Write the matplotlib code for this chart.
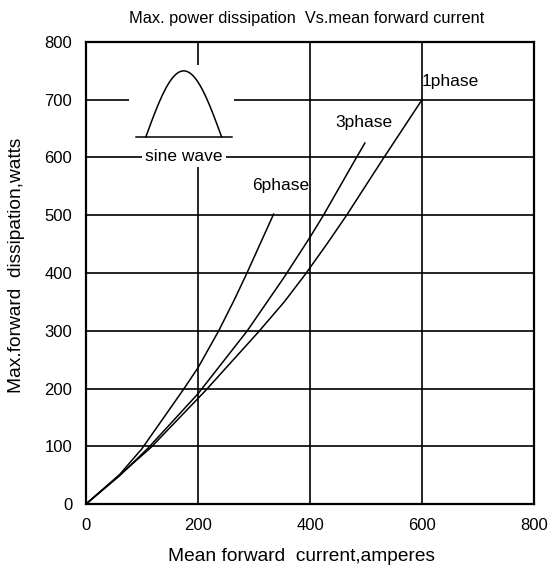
import numpy as np
import matplotlib.pyplot as plt
from matplotlib.patches import Rectangle

# ==========================================================
# Data
# ==========================================================

x_1phase = [0, 60, 116, 213, 308, 354, 391, 430, 464, 530, 600]
y_1phase = [0, 50, 98, 196, 298, 350, 397, 450, 498, 597, 700]

x_3phase = [0, 60, 110, 200, 288, 354, 400, 424, 480, 498]
y_3phase = [0, 49, 96, 191, 300, 393, 462, 500, 595, 625]

x_6phase = [0, 60, 100, 173, 200, 237, 264, 286, 335]
y_6phase = [0, 51, 96, 197, 236, 300, 352, 397, 502]

x_ticks = [0, 200, 400, 600, 800]
y_ticks = [0, 100, 200, 300, 400, 500, 600, 700, 800]

# sine-wave icon (data units)
icon_base_x = [90, 260]
icon_wave_x = [107, 242]
icon_base_y = 636
icon_peak_y = 750

REG = ["Liberation Sans", "DejaVu Sans"]

# ==========================================================
# Figure
# ==========================================================

fig = plt.figure(figsize=(5.5, 5.69), dpi=100)
ax = fig.add_axes([0.1564, 0.1142, 0.8145, 0.812])

ax.set_xlim(0, 800)
ax.set_ylim(0, 800)
ax.set_xticks(x_ticks)
ax.set_yticks(y_ticks)
ax.tick_params(length=0, pad=10, labelsize=12)
for lab in ax.get_xticklabels() + ax.get_yticklabels():
    lab.set_family(REG)

ax.grid(True, color="black", linewidth=1.2)
ax.set_axisbelow(True)
for sp in ax.spines.values():
    sp.set_linewidth(1.6)
    sp.set_color("black")

# curves
ax.plot(x_1phase, y_1phase, color="black", linewidth=1.1, zorder=3)
ax.plot(x_3phase, y_3phase, color="black", linewidth=1.1, zorder=3)
ax.plot(x_6phase, y_6phase, color="black", linewidth=1.1, zorder=3)

ax.text(599, 731, "1phase", fontsize=12.5, family=REG, va="center", ha="left")
ax.text(445, 661, "3phase", fontsize=12.5, family=REG, va="center", ha="left")
ax.text(296, 552, "6phase", fontsize=12.5, family=REG, va="center", ha="left")

# ==========================================================
# Sine wave icon
# ==========================================================

ax.add_patch(Rectangle((77, 612), 187, 148, facecolor="white",
                       edgecolor="none", zorder=2))
ax.plot(icon_base_x, [icon_base_y, icon_base_y], color="black",
        linewidth=1.1, zorder=3)
t = np.linspace(0, 1, 60)
ax.plot(icon_wave_x[0] + (icon_wave_x[1] - icon_wave_x[0]) * t,
        icon_base_y + (icon_peak_y - icon_base_y) * np.sin(np.pi * t),
        color="black", linewidth=1.1, zorder=3)
ax.text(175, 601, "sine wave", fontsize=12.5, family=REG,
        ha="center", va="center", zorder=4,
        bbox=dict(facecolor="white", edgecolor="none", pad=2))

# ==========================================================
# Labels
# ==========================================================

fig.text(0.558, 0.968, "Max. power dissipation  Vs.mean forward current",
         ha="center", va="center", fontsize=11.8, family=REG)
ax.set_xlabel("Mean forward  current,amperes", fontsize=13.8, family=REG)
ax.xaxis.set_label_coords(0.48, -0.095)
ax.set_ylabel("Max.forward  dissipation,watts", fontsize=13.8, family=REG)
ax.yaxis.set_label_coords(-0.137, 0.517)

plt.savefig("out.png", dpi=100)
plt.close()
